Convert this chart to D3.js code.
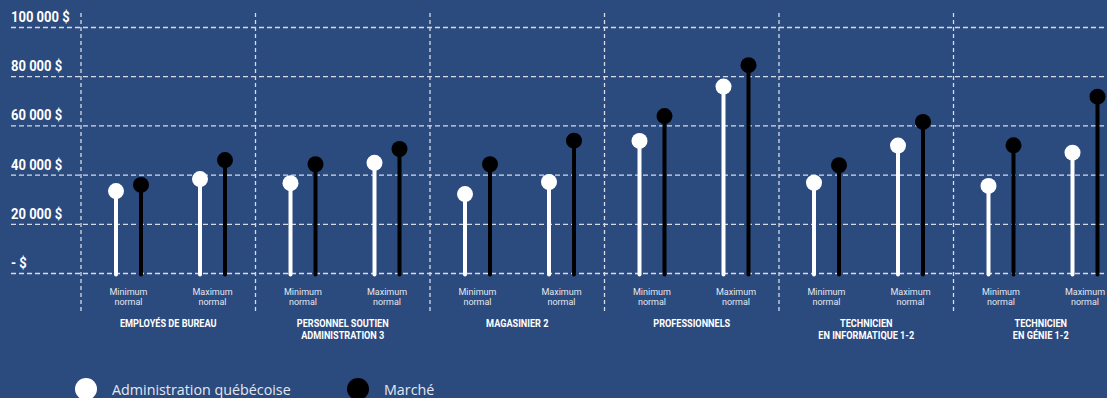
<!DOCTYPE html>
<html>
<head>
<meta charset="utf-8">
<script src="https://cdn.jsdelivr.net/npm/d3@7"></script>
<style>
  html, body { margin: 0; padding: 0; background: #2b4a7e; }
  svg { display: block; }
</style>
</head>
<body>
<div class="chart"></div>
<script>
// categories (two lines for some labels)
var groups = [
  ["EMPLOYÉS DE BUREAU"],
  ["PERSONNEL SOUTIEN", "ADMINISTRATION 3"],
  ["MAGASINIER 2"],
  ["PROFESSIONNELS"],
  ["TECHNICIEN", "EN INFORMATIQUE 1-2"],
  ["TECHNICIEN", "EN GÉNIE 1-2"]
];
var levels = ["Minimum", "Maximum"];
var levelLabels = [["Minimum", "normal"], ["Maximum", "normal"]];
var seriesNames = ["Administration québécoise", "Marché"];

// values: [min, max] per group
var adminMin  = [33500, 36700, 32300, 53900, 36900, 35600];
var adminMax  = [38400, 45000, 37200, 76000, 52000, 49100];
var marcheMin = [36000, 44400, 44400, 64000, 44000, 52100];
var marcheMax = [46100, 50600, 54000, 84700, 61600, 71900];

var yTicks = [0, 20000, 40000, 60000, 80000, 100000];

var width = 1107, height = 398;
var svg = d3.select(".chart").append("svg")
  .attr("width", width)
  .attr("height", height);

svg.append("rect").attr("width", width).attr("height", height).attr("fill", "#2b4a7e");

var y = d3.scaleLinear().domain([0, 100000]).range([273.5, 27.5]);

var groupW = 174.5;
var x0 = d3.scaleBand()
  .domain(d3.range(groups.length))
  .range([81, 81 + groupW * groups.length]);
var x1 = d3.scalePoint().domain(levels).range([47.5, 131.5]);
var xs = d3.scalePoint().domain(seriesNames).range([-12.5, 12.5]);

var gridColor = "#d6dbe6";

// horizontal grid + labels
yTicks.forEach(function(t) {
  svg.append("line")
    .attr("x1", 11).attr("x2", width)
    .attr("y1", y(t)).attr("y2", y(t))
    .attr("stroke", gridColor)
    .attr("stroke-width", 1.3)
    .attr("stroke-dasharray", "5,3");
  var label = t === 0 ? "- $" : d3.format(",")(t).replace(/,/g, " ") + " $";
  svg.append("text")
    .attr("transform", "translate(11," + (y(t) - 5.5) + ") scale(0.93,1)")
    .attr("fill", "#ffffff")
    .attr("font-family", "Roboto")
    .attr("font-weight", "bold")
    .attr("font-size", 14)
    .text(label);
});

// vertical separators
d3.range(groups.length).forEach(function(i) {
  svg.append("line")
    .attr("x1", x0(i)).attr("x2", x0(i))
    .attr("y1", 13).attr("y2", 312)
    .attr("stroke", gridColor)
    .attr("stroke-width", 1.3)
    .attr("stroke-dasharray", "4,3");
});

function drawLolly(cx, v, color) {
  svg.append("line")
    .attr("x1", cx).attr("x2", cx)
    .attr("y1", y(0) + 1).attr("y2", y(v))
    .attr("stroke", color)
    .attr("stroke-width", 4)
    .attr("stroke-linecap", "round");
  svg.append("circle")
    .attr("cx", cx).attr("cy", y(v))
    .attr("r", 8)
    .attr("fill", color);
}

var series = [
  { name: seriesNames[0], color: "#ffffff", vals: [adminMin, adminMax] },
  { name: seriesNames[1], color: "#000000", vals: [marcheMin, marcheMax] }
];

groups.forEach(function(g, i) {
  levels.forEach(function(lv, j) {
    var cx = x0(i) + x1(lv);
    series.forEach(function(s) {
      drawLolly(cx + xs(s.name), s.vals[j][i], s.color);
    });
    levelLabels[j].forEach(function(line, k) {
      svg.append("text")
        .attr("x", cx).attr("y", 294.5 + k * 10.5)
        .attr("text-anchor", "middle")
        .attr("fill", "#e3e7ef")
        .attr("font-family", "Roboto")
        .attr("font-size", 9)
        .text(line);
    });
  });
  var gc = x0(i) + groupW / 2;
  g.forEach(function(line, k) {
    svg.append("text")
      .attr("transform", "translate(" + gc + "," + (327 + k * 12) + ") scale(0.87,1)")
      .attr("text-anchor", "middle")
      .attr("fill", "#ffffff")
      .attr("font-family", "Roboto")
      .attr("font-weight", "bold")
      .attr("font-size", 10.5)
      .text(line);
  });
});

// legend
var legendX = [86, 358];
series.forEach(function(s, i) {
  svg.append("circle")
    .attr("cx", legendX[i]).attr("cy", 389)
    .attr("r", 11)
    .attr("fill", s.color);
  svg.append("text")
    .attr("x", legendX[i] + 26).attr("y", 395)
    .attr("fill", "#e3e7ef")
    .attr("font-family", "Open Sans")
    .attr("font-size", 14.3)
    .text(s.name);
});
</script>
</body>
</html>
